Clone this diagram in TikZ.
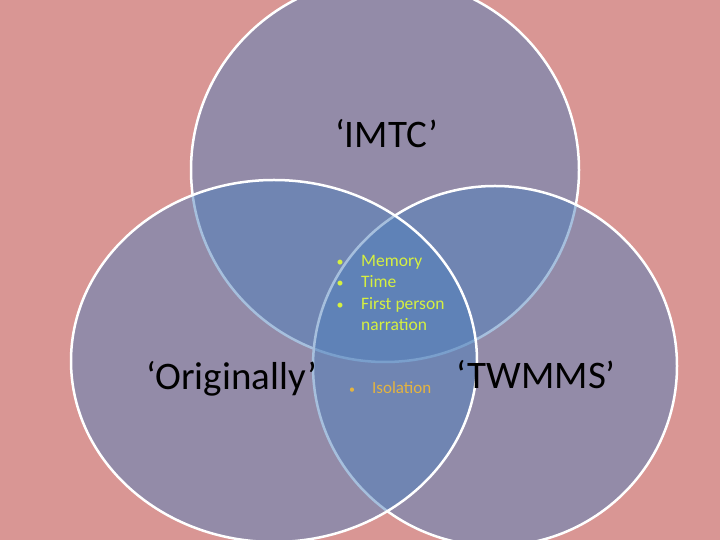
\documentclass[tikz,border=0pt]{standalone}
\usepackage{fontspec}
\setmainfont{Carlito}
\definecolor{bgpink}{RGB}{217,150,148}
\definecolor{vblue}{RGB}{79,129,189}
\definecolor{chart}{RGB}{214,240,64}
\definecolor{gold}{RGB}{228,180,64}
\begin{document}
\begin{tikzpicture}[x=1pt,y=1pt,
  venn/.style={fill=vblue, fill opacity=0.5, draw=white, line width=2.5pt},
  big/.style={inner sep=0pt, anchor=base west, text=black, font=\fontsize{39}{47}\selectfont},
  itm/.style={inner sep=0pt, anchor=base west, text=chart, font=\fontsize{17.5}{21}\selectfont},
  bul/.style={inner sep=0pt, anchor=base, text=chart, font=\fontsize{14}{17}\selectfont},
  iso/.style={inner sep=0pt, anchor=base west, text=gold, font=\fontsize{17}{20}\selectfont},
  isobul/.style={inner sep=0pt, anchor=base, text=gold, font=\fontsize{12}{14}\selectfont}]
\useasboundingbox (0,0) rectangle (720,540);
\clip (0,0) rectangle (720,540);
\fill[bgpink] (0,0) rectangle (720,540);
\draw[venn] (385,370) ellipse [x radius=194, y radius=192];
\draw[venn] (495,174) ellipse [x radius=182, y radius=180];
\draw[venn] (274,179) ellipse [x radius=203, y radius=181];
\node[big] (imtc) at (335,392) {‘IMTC’};
\node[big] (orig) at (146,150) {‘Originally’};
\node[big] (twmms) at (456,151) {‘TWMMS’};
\node[bul] (b1) at (340,273) {•};
\node[bul] (b2) at (340,252) {•};
\node[bul] (b3) at (340,230) {•};
\node[itm] (t1) at (361,273) {Memory};
\node[itm] (t2) at (361,252) {Time};
\node[itm] (t3) at (361,230) {First person};
\node[itm] (t4) at (361,209) {narration};
\node[isobul] (b5) at (352,146) {•};
\node[iso] (t5) at (372,146) {Isolation};
\end{tikzpicture}
\end{document}
